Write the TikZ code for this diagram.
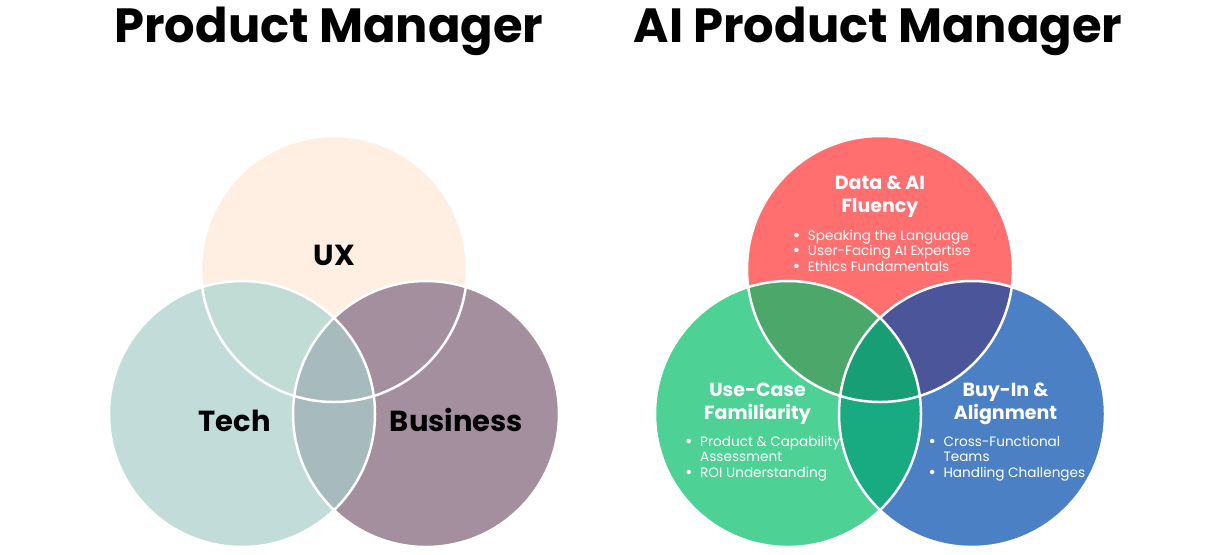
\documentclass[tikz,border=0pt]{standalone}
\usepackage{fontspec}
\setmainfont{Poppins}
\usetikzlibrary{positioning}

\definecolor{uxpeach}{HTML}{FFEFE2}
\definecolor{techteal}{HTML}{C2DDD9}
\definecolor{bizmauve}{HTML}{A48F9F}
\definecolor{uxtech}{HTML}{C1DBD5}
\definecolor{techbiz}{HTML}{A7BABD}
\definecolor{datared}{HTML}{FF6F6F}
\definecolor{usegreen}{HTML}{4DD194}
\definecolor{buyblue}{HTML}{4B80C5}
\definecolor{datause}{HTML}{4CA76A}
\definecolor{databuy}{HTML}{4B569A}
\definecolor{usebuy}{HTML}{18AB81}
\definecolor{allthree}{HTML}{179E74}

\newcommand{\vennr}{133pt}
\newcommand{\bul}{\makebox[15pt][l]{\raisebox{-1.3pt}{\fontsize{18}{18}\selectfont\textbullet}}}
\newcommand{\ind}{\hspace*{15pt}}

\begin{document}
\begin{tikzpicture}[
        x=1pt, y=-1pt,
        title/.style={
            font=\bfseries\fontsize{48}{54}\selectfont,
            anchor=base,
            inner sep=0pt
        },
        setlabel/.style={
            font=\bfseries\fontsize{29}{32}\selectfont,
            anchor=base,
            inner sep=0pt
        },
        head/.style={
            font=\bfseries\fontsize{19}{23}\selectfont,
            text=white,
            anchor=base,
            inner sep=0pt
        },
        items/.style={
            font=\fontsize{13.6}{15.6}\selectfont,
            text=white,
            anchor=base west,
            inner sep=0pt
        },
        rim/.style={draw=white, line width=2.5pt}
    ]
        \useasboundingbox (0,0) rectangle (1214,554);

        % centres
        \coordinate (ux) at (334,269);
        \coordinate (tech) at (242,414);
        \coordinate (biz) at (426,414);
        \coordinate (data) at (880,269);
        \coordinate (usecase) at (788,414);
        \coordinate (buyin) at (972,414);

        % left diagram
        \fill[uxpeach] (ux) circle (\vennr);
        \fill[techteal] (tech) circle (\vennr);
        \fill[bizmauve] (biz) circle (\vennr);
        \begin{scope}
            \clip (tech) circle (\vennr);
            \fill[techbiz] (biz) circle (\vennr);
        \end{scope}
        \begin{scope}
            \clip (ux) circle (\vennr);
            \fill[uxtech] (tech) circle (\vennr);
            \fill[bizmauve] (biz) circle (\vennr);
            \clip (tech) circle (\vennr);
            \fill[techbiz] (biz) circle (\vennr);
        \end{scope}
        \draw[rim] (ux) circle (\vennr);
        \draw[rim] (tech) circle (\vennr);
        \draw[rim] (biz) circle (\vennr);

        % right diagram
        \fill[datared] (data) circle (\vennr);
        \fill[usegreen] (usecase) circle (\vennr);
        \fill[buyblue] (buyin) circle (\vennr);
        \begin{scope}
            \clip (usecase) circle (\vennr);
            \fill[usebuy] (buyin) circle (\vennr);
        \end{scope}
        \begin{scope}
            \clip (data) circle (\vennr);
            \fill[datause] (usecase) circle (\vennr);
            \fill[databuy] (buyin) circle (\vennr);
            \clip (usecase) circle (\vennr);
            \fill[allthree] (buyin) circle (\vennr);
        \end{scope}
        \draw[rim] (data) circle (\vennr);
        \draw[rim] (usecase) circle (\vennr);
        \draw[rim] (buyin) circle (\vennr);

        % titles
        \node[title] (pmtitle) at (329,42.7) {Product Manager};
        \node[title] (aititle) at (878,42.7) {AI Product Manager};

        % labels
        \node[setlabel] (uxlabel) at (334.5,265.7) {UX};
        \node[setlabel] (techlabel) at (234.5,431.7) {Tech};
        \node[setlabel] (bizlabel) at (456.5,431.7) {Business};

        \node[head] (datahead) at (880,189.3)
            {\begin{tabular}[t]{@{}c@{}}Data \& AI\\Fluency\end{tabular}};
        \node[items] (dataitems) at (792.7,240)
            {\begin{tabular}[t]{@{}l@{}}\bul Speaking the Language\\\bul User-Facing AI Expertise\\\bul Ethics Fundamentals\end{tabular}};

        \node[head] (usehead) at (757.5,396)
            {\begin{tabular}[t]{@{}c@{}}Use-Case\\Familiarity\end{tabular}};
        \node[items] (useitems) at (685,446)
            {\begin{tabular}[t]{@{}l@{}}\bul Product \& Capability\\\ind Assessment\\\bul ROI Understanding\end{tabular}};

        \node[head] (buyhead) at (1005.5,396)
            {\begin{tabular}[t]{@{}c@{}}Buy-In \&\\Alignment\end{tabular}};
        \node[items] (buyitems) at (928.3,446)
            {\begin{tabular}[t]{@{}l@{}}\bul Cross-Functional\\\ind Teams\\\bul Handling Challenges\end{tabular}};
\end{tikzpicture}
\end{document}
